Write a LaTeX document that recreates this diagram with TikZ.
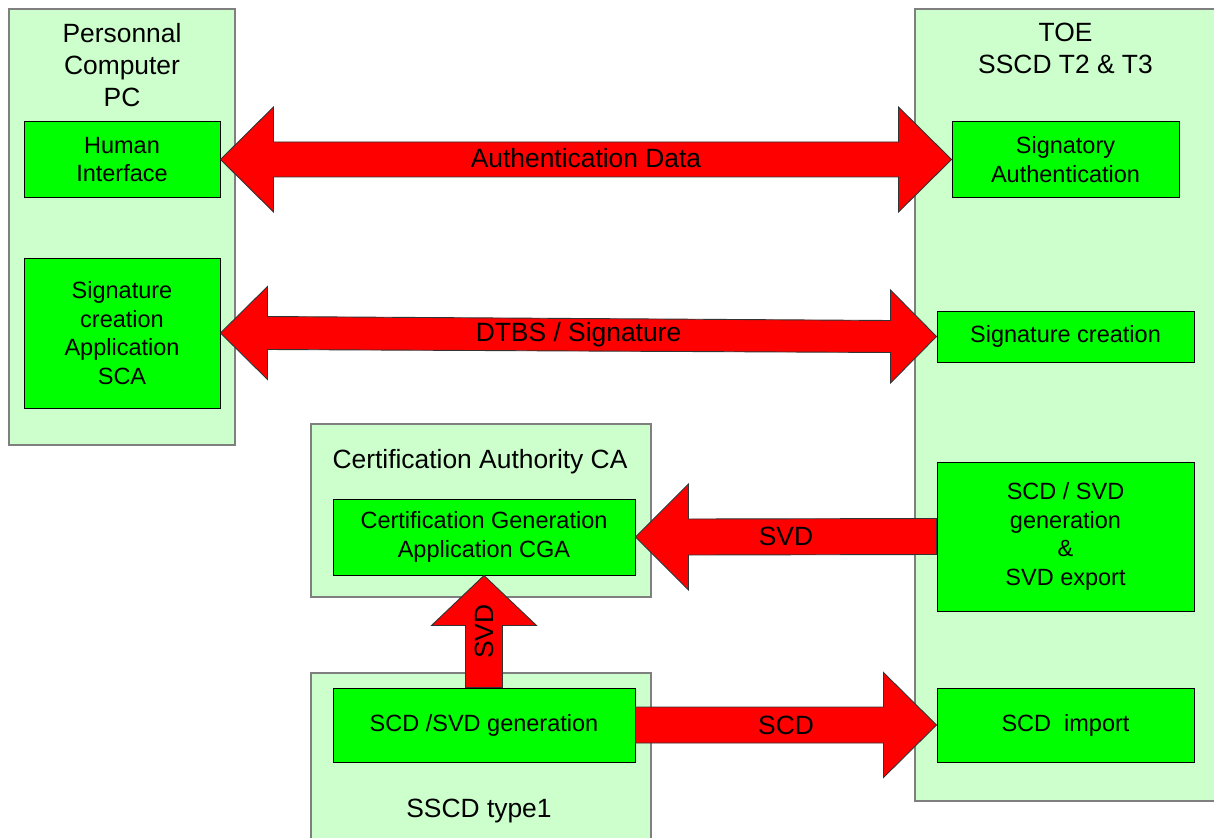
\documentclass[tikz,border=0pt]{standalone}
\usepackage{fontspec}
\setmainfont{Liberation Sans}
\usetikzlibrary{calc}
\definecolor{pale}{HTML}{CCFFCC}
\definecolor{bright}{HTML}{00FF00}
\definecolor{arrowred}{HTML}{FF0000}
\definecolor{edge}{HTML}{7F7F7F}
\tikzset{
  outerbox/.style={draw=edge, fill=pale, line width=1.2pt, inner sep=0pt},
  innerbox/.style={draw=black, fill=bright, line width=1pt, inner sep=0pt,
    align=center, font=\fontsize{23.5}{28.5}\selectfont},
  title/.style={align=center, inner sep=0pt, font=\fontsize{26.4}{32}\selectfont},
  fat/.style={draw=black!80, fill=arrowred, line width=0.9pt, line join=miter},
  flowlabel/.style={inner sep=0pt, font=\fontsize{26.4}{32}\selectfont}
}
\begin{document}
\begin{tikzpicture}[x=1pt, y=-1pt]
\useasboundingbox (0,0) rectangle (1214,837);

% enclosing systems
\node[outerbox, minimum width=226, minimum height=436] (pc) at (122,227) {};
\node[outerbox, minimum width=310, minimum height=792] (toe) at (1070,405) {};
\node[outerbox, minimum width=340, minimum height=173] (ca) at (481,510.5) {};
\node[outerbox, minimum width=340, minimum height=172] (sscd) at (481,759) {};

\node[title] (pctitle) at (122,65) {Personnal\\Computer\\PC};
\node[title] (toetitle) at (1065.5,48) {TOE\\SSCD T2 \& T3};
\node[title] (catitle) at (480,462) {Certification Authority CA};
\node[title] (sscdtitle) at (479,811) {SSCD type1};

% functional blocks
\node[innerbox, minimum width=196, minimum height=75] (hi) at (122,159.5) {Human\\Interface};
\node[innerbox, minimum width=196, minimum height=150] (sca) at (122,333) {Signature\\creation\\Application\\SCA};
\node[innerbox, minimum width=227, minimum height=75] (sa) at (1065.5,159.5) {Signatory\\Authentication};
\node[innerbox, minimum width=257, minimum height=51] (sc) at (1065.5,336.5) {Signature creation};
\node[innerbox, minimum width=257, minimum height=149] (svdgen) at (1065.5,536.5) {SCD / SVD\\generation\\\&\\SVD export};
\node[innerbox, minimum width=257, minimum height=74] (imp) at (1065.5,725) {SCD\ \ import};
\node[innerbox, minimum width=302, minimum height=76] (cga) at (484,537) {Certification Generation\\Application CGA};
\node[innerbox, minimum width=302, minimum height=74] (gen) at (484,725) {SCD /SVD generation};

% Authentication Data (both ways)
\draw[fat] (hi.east) -- ++(53,-52.5) -- ++(0,35)
  -- ($(sa.west)+(-53,-17.5)$) -- ++(0,-35) -- (sa.west) -- ++(-53,52.5) -- ++(0,-35)
  -- ($(hi.east)+(53,17.5)$) -- ++(0,35) -- cycle;
\node[flowlabel] (lauth) at ($(hi.east)!0.5!(sa.west)+(0,-1)$) {Authentication Data};

% DTBS / Signature (both ways)
\draw[fat] (sca.east) -- ++(47,-46.5) -- ++(0,30)
  -- ($(sc.west)+(-46,-16)$) -- ++(0,-30.5) -- (sc.west) -- ++(-46,46.5) -- ++(0,-30.5)
  -- ($(sca.east)+(47,16.5)$) -- ++(0,30) -- cycle;
\node[flowlabel] (ldtbs) at ($(sca.east)!0.5!(sc.west)$) {DTBS / Signature};

% SVD export to the CA
\draw[fat] (cga.east) -- ++(53,-53) -- ++(0,35)
  -- ($(svdgen.west)+(0,-18)$) -- ++(0,36)
  -- ($(cga.east)+(53,18)$) -- ++(0,35) -- cycle;
\node[flowlabel] (lsvd) at ($(cga.east)!0.5!(svdgen.west)$) {SVD};

% SVD from the type 1 device to the CA
\draw[fat] (cga.south) -- ++(52.5,50) -- ++(-34,0)
  -- ($(gen.north)+(18.5,0)$) -- ++(-37,0)
  -- ($(cga.south)+(-18.5,50)$) -- ++(-34,0) -- cycle;
\node[flowlabel, rotate=90] (lsvdup) at ($(cga.south)!0.5!(gen.north)$) {SVD};

% SCD import into the TOE
\draw[fat] ($(gen.east)+(0,-18)$) -- ($(imp.west)+(-53,-18)$) -- ++(0,-34.5)
  -- (imp.west) -- ++(-53,52.5) -- ++(0,-34.5)
  -- ($(gen.east)+(0,18)$) -- cycle;
\node[flowlabel] (lscd) at ($(gen.east)!0.5!(imp.west)$) {SCD};
\end{tikzpicture}
\end{document}
